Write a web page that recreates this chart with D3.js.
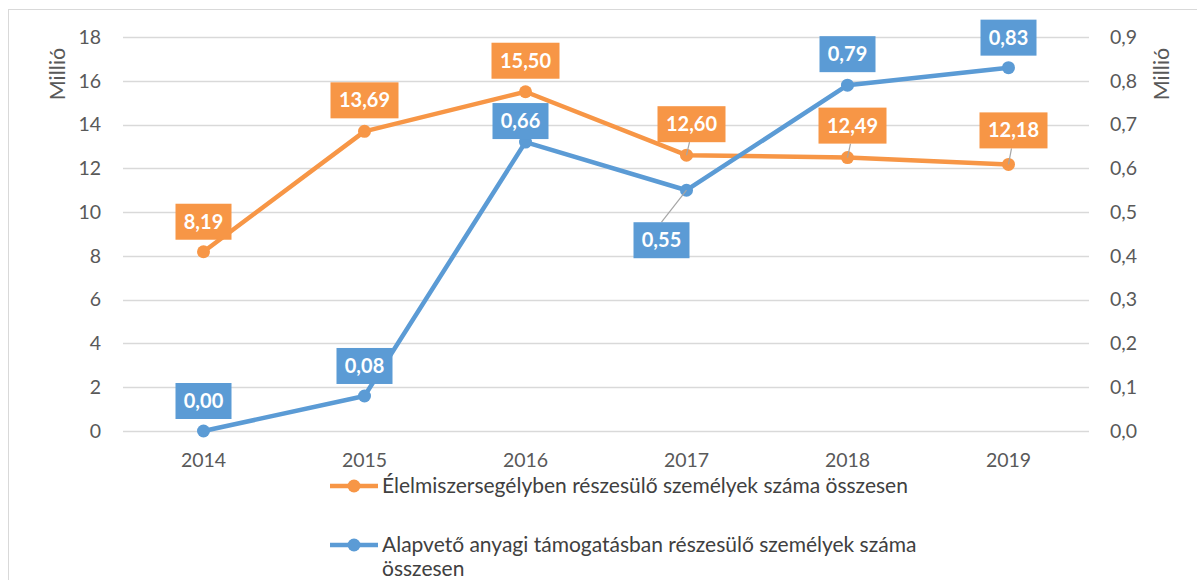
<!DOCTYPE html>
<html>
<head>
<meta charset="utf-8">
<script src="https://cdn.jsdelivr.net/npm/d3@7"></script>
<style>
  body { margin: 0; background: #fff; }
  svg { font-family: Lato, "Open Sans", sans-serif; }
</style>
</head>
<body>
<svg id="chart"></svg>
<script>
const years = ["2014", "2015", "2016", "2017", "2018", "2019"];
const foodAid = [8.19, 13.69, 15.50, 12.60, 12.49, 12.18];
const basicAid = [0.00, 0.08, 0.66, 0.55, 0.79, 0.83];
const leftTicks = [0, 2, 4, 6, 8, 10, 12, 14, 16, 18];
const rightTicks = [0, 0.1, 0.2, 0.3, 0.4, 0.5, 0.6, 0.7, 0.8, 0.9];
const seriesNames = [
    "Élelmiszersegélyben részesülő személyek száma összesen",
    ["Alapvető anyagi támogatásban részesülő személyek száma", "összesen"]
];

// label box offsets from the point: [dx, dy, leader line?]
const foodOffsets = [[0, -30, 0], [0, -31, 0], [0, -31, 0], [5, -31, 1], [5, -32, 1], [5, -34, 1]];
const basicOffsets = [[0, -30, 0], [0, -30, 0], [-5, -21, 0], [-25, 50, 1], [0, -31, 0], [0, -30, 0]];

const width = 1197, height = 580;
const orange = "#F79646", blue = "#5B9BD5";
const plotLeft = 123, plotRight = 1089, plotTop = 37, plotBottom = 431;

const svg = d3.select("#chart").attr("width", width).attr("height", height);

svg.append("rect")
   .attr("x", 8.5).attr("y", 9.5)
   .attr("width", 1200).attr("height", 600)
   .attr("fill", "none").attr("stroke", "#d9d9d9");

const x = d3.scaleBand().domain(years).range([plotLeft, plotRight]);
const yL = d3.scaleLinear().domain([0, 18]).range([plotBottom, plotTop]);
const yR = d3.scaleLinear().domain([0, 0.9]).range([plotBottom, plotTop]);
const fmt = v => d3.format(".2f")(v).replace(".", ",");

// gridlines
svg.append("g")
   .selectAll("line")
   .data(leftTicks)
   .enter()
   .append("line")
   .attr("x1", plotLeft).attr("x2", plotRight)
   .attr("y1", d => Math.round(yL(d)) + 0.5)
   .attr("y2", d => Math.round(yL(d)) + 0.5)
   .attr("stroke", "#d9d9d9").attr("stroke-width", 1.3);

const leftAxis = svg.append("g")
   .attr("transform", `translate(${plotLeft},0)`)
   .call(d3.axisLeft(yL).tickValues(leftTicks).tickSize(0).tickPadding(22));
const rightAxis = svg.append("g")
   .attr("transform", `translate(${plotRight},0)`)
   .call(d3.axisRight(yR).tickValues(rightTicks).tickSize(0).tickPadding(21)
         .tickFormat(d => d3.format(".1f")(d).replace(".", ",")));
const xAxis = svg.append("g")
   .attr("transform", `translate(0,${plotBottom})`)
   .call(d3.axisBottom(x).tickSize(0).tickPadding(22));

[leftAxis, rightAxis, xAxis].forEach(a => {
    a.select(".domain").remove();
    a.selectAll("text").attr("fill", "#595959").style("font-size", "19.5px")
     .style("font-family", "Lato, 'Open Sans', sans-serif");
});

// axis titles
svg.append("text")
   .attr("transform", "translate(65,74) rotate(-90)")
   .attr("text-anchor", "middle")
   .attr("fill", "#595959").style("font-size", "21.5px")
   .text("Millió");
svg.append("text")
   .attr("transform", "translate(1169,74) rotate(-90)")
   .attr("text-anchor", "middle")
   .attr("fill", "#595959").style("font-size", "21.5px")
   .text("Millió");

const cx = d => x(d) + x.bandwidth() / 2;

function drawSeries(values, yScale, color, offsets) {
    const pts = values.map((v, i) => ({ year: years[i], v: v, off: offsets[i] }));
    const line = d3.line().x(d => cx(d.year)).y(d => yScale(d.v));

    svg.append("path")
       .datum(pts)
       .attr("d", line)
       .attr("fill", "none")
       .attr("stroke", color)
       .attr("stroke-width", 4.5)
       .attr("stroke-linejoin", "round");

    svg.append("g")
       .selectAll("circle")
       .data(pts)
       .enter()
       .append("circle")
       .attr("cx", d => cx(d.year))
       .attr("cy", d => yScale(d.v))
       .attr("r", 6.5)
       .attr("fill", color);

    return pts;
}

function drawLabels(pts, yScale, color) {
    const g = svg.append("g");
    pts.forEach(d => {
        const px = cx(d.year), py = yScale(d.v);
        const bx = px + d.off[0], by = py + d.off[1];
        const txt = fmt(d.v);
        const w = txt.length > 4 ? 68 : 56, h = 36;
        if (d.off[2]) {
            // leader line from box edge to point
            const ey = d.off[1] < 0 ? by + h / 2 : by - h / 2;
            const ex = d.off[1] < 0 ? bx - d.off[0] * 0.4 : bx;
            g.append("line")
             .attr("x1", ex).attr("y1", ey)
             .attr("x2", px).attr("y2", py)
             .attr("stroke", "#a6a6a6").attr("stroke-width", 1.2);
        }
        g.append("rect")
         .attr("x", bx - w / 2).attr("y", by - h / 2)
         .attr("width", w).attr("height", h)
         .attr("fill", color);
        g.append("text")
         .attr("x", bx).attr("y", by + 7)
         .attr("text-anchor", "middle")
         .attr("fill", "#fff")
         .style("font-size", "20px").style("font-weight", "bold")
         .text(txt);
    });
}

const foodPts = drawSeries(foodAid, yL, orange, foodOffsets);
const basicPts = drawSeries(basicAid, yR, blue, basicOffsets);
drawLabels(foodPts, yL, orange);
drawLabels(basicPts, yR, blue);

// legend
const legend = svg.append("g");
const legendItems = [
    { color: orange, y: 486, lines: [seriesNames[0]] },
    { color: blue, y: 545, lines: seriesNames[1] }
];
legendItems.forEach(it => {
    legend.append("line")
          .attr("x1", 330).attr("x2", 378)
          .attr("y1", it.y).attr("y2", it.y)
          .attr("stroke", it.color).attr("stroke-width", 4.5);
    legend.append("circle")
          .attr("cx", 354).attr("cy", it.y).attr("r", 6.5)
          .attr("fill", it.color);
    it.lines.forEach((t, i) => {
        legend.append("text")
              .attr("x", 382).attr("y", it.y + 7 + i * 24)
              .attr("fill", "#404040")
              .style("font-size", "21px")
              .text(t);
    });
});
</script>
</body>
</html>
